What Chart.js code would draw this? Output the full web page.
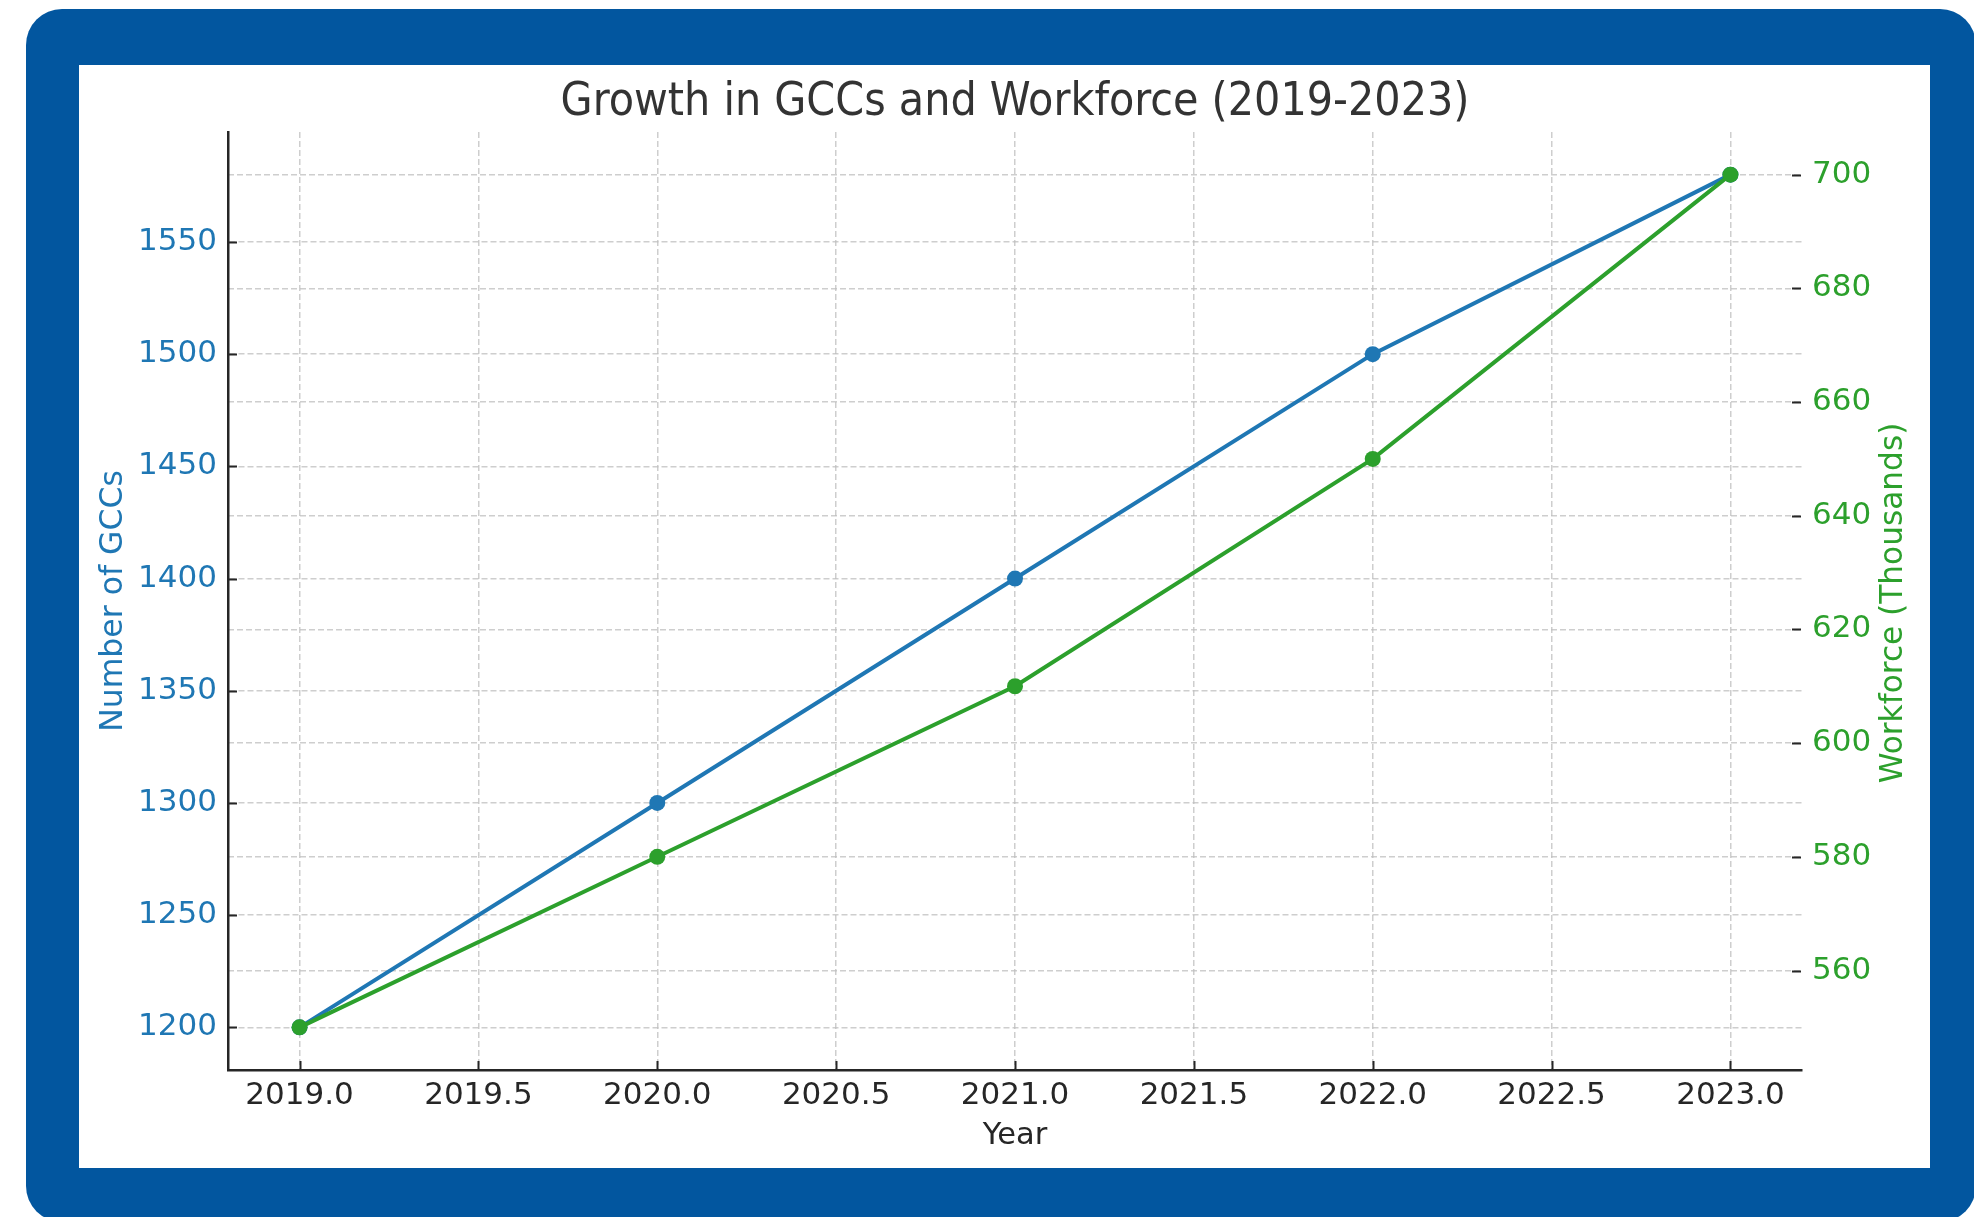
<!DOCTYPE html>
<html>
<head>
<meta charset="utf-8">
<title>Growth in GCCs and Workforce (2019-2023)</title>
<script src="https://cdn.jsdelivr.net/npm/chart.js@4.4.1/dist/chart.umd.min.js"></script>
<style>
  html, body { margin: 0; padding: 0; width: 1974px; height: 1217px; overflow: hidden; background: #ffffff; }
  #frame { position: absolute; left: 26px; top: 9px; width: 1950px; height: 1213px; background: #02569f; border-radius: 36px; }
  #panel { position: absolute; left: 79px; top: 65px; width: 1851px; height: 1103px; background: #ffffff; }
  #wrap { position: absolute; left: 0; top: 0; width: 1974px; height: 1217px; }
</style>
</head>
<body>
<div id="frame"></div>
<div id="panel"></div>
<div id="wrap"><canvas id="chart" width="1974" height="1217"></canvas></div>
<script>
// Yearly figures
const years = [2019, 2020, 2021, 2022, 2023];
const gccCounts = [1200, 1300, 1400, 1500, 1580];
const workforceThousands = [550, 580, 610, 650, 700];

// Tick positions for each axis
const yearTicks = [2019.0, 2019.5, 2020.0, 2020.5, 2021.0, 2021.5, 2022.0, 2022.5, 2023.0];
const gccTicks = [1200, 1250, 1300, 1350, 1400, 1450, 1500, 1550];
const workforceTicks = [560, 580, 600, 620, 640, 660, 680, 700];

const FONT = "'DejaVu Sans', 'Liberation Sans', sans-serif";
const TITLE_FONT = "'DejaVu Sans Condensed', 'DejaVu Sans', sans-serif";
const BLUE = '#1f77b4';
const GREEN = '#2ca02c';
const INK = '#262626';
const GRID = 'rgba(190,190,190,0.75)';
const TICK_SIZE = 31;

// 5% breathing room around the data on every axis
function padded(values, frac) {
  const lo = Math.min(...values), hi = Math.max(...values);
  const m = (hi - lo) * frac;
  return { min: lo - m, max: hi + m };
}
const xRange = padded(years, 0.05);
const gccRange = padded(gccCounts, 0.05);
const wfRange = padded(workforceThousands, 0.05);

const points = (vals) => years.map((yr, i) => ({ x: yr, y: vals[i] }));

// Inward tick marks on the three axes and the rotated right-hand axis title
const axisDecor = {
  id: 'axisDecor',
  beforeDatasetsDraw(chart) {
    const { ctx, chartArea: a, scales } = chart;
    const len = 9;
    ctx.save();
    ctx.strokeStyle = INK;
    ctx.lineWidth = 2;
    ctx.beginPath();
    scales.x.ticks.forEach(t => {
      const px = Math.round(scales.x.getPixelForValue(t.value)) + 0.5;
      ctx.moveTo(px, a.bottom); ctx.lineTo(px, a.bottom - len);
    });
    scales.y.ticks.forEach(t => {
      const py = Math.round(scales.y.getPixelForValue(t.value)) + 0.5;
      ctx.moveTo(a.left, py); ctx.lineTo(a.left + len, py);
    });
    scales.y1.ticks.forEach(t => {
      const py = Math.round(scales.y1.getPixelForValue(t.value)) + 0.5;
      ctx.moveTo(a.right - 1, py); ctx.lineTo(a.right - 1 - len, py);
    });
    ctx.stroke();
    ctx.restore();
  },
  afterDraw(chart) {
    const { ctx, chartArea: a } = chart;
    ctx.save();
    ctx.translate(a.right + 92, (a.top + a.bottom) / 2 + 2);
    ctx.rotate(-Math.PI / 2);
    ctx.fillStyle = GREEN;
    ctx.font = `31.2px ${FONT}`;
    ctx.textAlign = 'center';
    ctx.textBaseline = 'middle';
    ctx.fillText('Workforce (Thousands)', 0, 0);
    ctx.restore();
  }
};

new Chart(document.getElementById('chart'), {
  type: 'line',
  data: {
    datasets: [
      {
        label: 'Number of GCCs',
        data: points(gccCounts),
        yAxisID: 'y',
        borderColor: BLUE,
        backgroundColor: BLUE,
        borderWidth: 4,
        pointRadius: 8,
        pointHoverRadius: 8,
        pointBorderWidth: 0,
        tension: 0,
        order: 1
      },
      {
        label: 'Workforce (Thousands)',
        data: points(workforceThousands),
        yAxisID: 'y1',
        borderColor: GREEN,
        backgroundColor: GREEN,
        borderWidth: 4,
        pointRadius: 8,
        pointHoverRadius: 8,
        pointBorderWidth: 0,
        tension: 0,
        order: 0
      }
    ]
  },
  options: {
    responsive: false,
    animation: false,
    layout: { padding: { left: 80, right: 24, top: 2, bottom: 48 } },
    plugins: {
      legend: { display: false },
      tooltip: { enabled: false },
      title: {
        display: true,
        text: 'Growth in GCCs and Workforce (2019-2023)',
        color: '#333333',
        font: { family: TITLE_FONT, size: 46, weight: 'normal', lineHeight: 1.1 },
        padding: { top: 75.7, bottom: 3.7 }
      }
    },
    scales: {
      x: {
        type: 'linear',
        position: 'bottom',
        min: xRange.min,
        max: xRange.max,
        afterBuildTicks: s => { s.ticks = yearTicks.map(v => ({ value: v })); },
        afterFit: s => { s.height = 99; },
        ticks: {
          callback: v => Number(v).toFixed(1),
          color: INK,
          font: { family: FONT, size: TICK_SIZE },
          padding: 7,
          maxRotation: 0,
          autoSkip: false
        },
        grid: { color: GRID, lineWidth: 1.5, drawTicks: false },
        border: { display: true, color: INK, width: 2.5, dash: [6, 3] },
        title: {
          display: true,
          text: 'Year',
          color: INK,
          font: { family: FONT, size: 30.5 },
          padding: { top: 0, bottom: 15 }
        }
      },
      y: {
        type: 'linear',
        position: 'left',
        min: gccRange.min,
        max: gccRange.max,
        afterBuildTicks: s => { s.ticks = gccTicks.map(v => ({ value: v })); },
        afterFit: s => { s.width = 148; },
        ticks: {
          callback: v => String(v),
          color: BLUE,
          font: { family: FONT, size: TICK_SIZE },
          padding: 11
        },
        grid: { color: GRID, lineWidth: 1.5, drawTicks: false },
        border: { display: true, color: INK, width: 2.5, dash: [6, 3] },
        title: {
          display: true,
          text: 'Number of GCCs',
          color: BLUE,
          font: { family: FONT, size: 31.5 },
          padding: { top: 15, bottom: 0 }
        }
      },
      y1: {
        type: 'linear',
        position: 'right',
        min: wfRange.min,
        max: wfRange.max,
        afterBuildTicks: s => { s.ticks = workforceTicks.map(v => ({ value: v })); },
        afterFit: s => { s.width = 148; },
        ticks: {
          callback: v => String(v),
          color: GREEN,
          font: { family: FONT, size: TICK_SIZE },
          padding: 10
        },
        grid: { color: GRID, lineWidth: 1.5, drawTicks: false, drawOnChartArea: true },
        border: { display: false, dash: [6, 3] }
      }
    }
  },
  plugins: [axisDecor]
});
</script>
</body>
</html>
